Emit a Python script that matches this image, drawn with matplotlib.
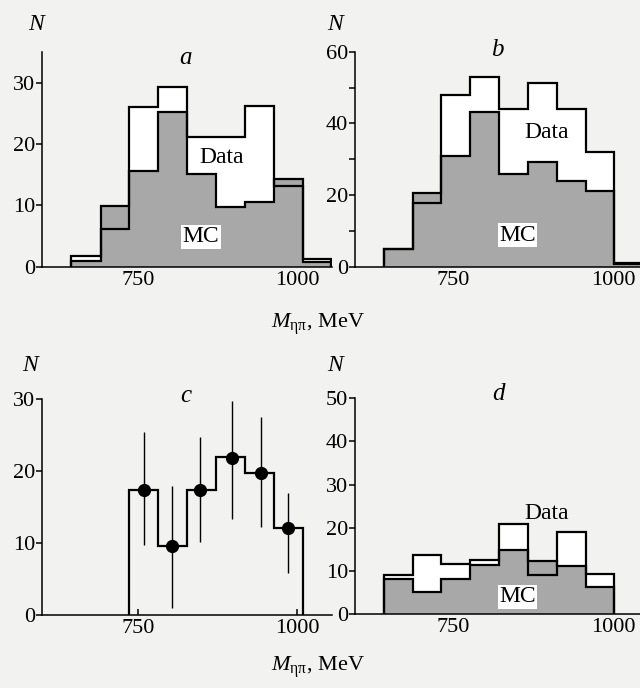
import matplotlib
matplotlib.use("Agg")
import matplotlib.pyplot as plt
from matplotlib.ticker import MultipleLocator

plt.rcParams['font.family'] = ['Liberation Serif', 'DejaVu Serif']
plt.rcParams['mathtext.fontset'] = 'custom'
plt.rcParams['mathtext.rm'] = 'Liberation Serif'
plt.rcParams['mathtext.it'] = 'Liberation Serif:italic'

# bin edges (MeV)
edges_left = [645, 691, 736, 782, 827, 873, 918, 964, 1009, 1054]
edges_right = [641, 686, 731, 776, 821, 866, 911, 956, 1001, 1046]
edges_c = [736, 782, 827, 873, 918, 964, 1009]

# panel a
data_a = [1.7, 6.1, 26, 29.3, 21.1, 21.1, 26.3, 13.1, 1.2]
mc_a = [1.0, 9.9, 15.7, 25.2, 15.1, 9.7, 10.6, 14.3, 0.8]
# panel b
data_b = [5, 17.7, 47.9, 53, 44, 51.2, 44, 31.9, 1.0]
mc_b = [5, 20.5, 30.9, 43.3, 26, 29.1, 23.9, 21.1, 0.8]
# panel c
hist_c = [17.4, 9.6, 17.4, 22.0, 19.8, 12.1]
pts_x_c = [760, 803, 848, 897, 943, 986]
pts_y_c = [17.4, 9.6, 17.4, 21.8, 19.7, 12.1]
err_lo_c = [7.7, 8.6, 7.2, 8.4, 7.5, 6.2]
err_hi_c = [8.1, 8.4, 7.4, 7.9, 7.9, 4.8]
# panel d
data_d = [9.0, 13.7, 11.6, 12.5, 20.8, 9.0, 18.9, 9.3]
mc_d = [8.0, 5.2, 8.0, 11.4, 14.8, 12.4, 11.2, 6.3]

W, H = 640, 688
bg = '#f2f2f0'
gray = '#a8a8a8'
fig = plt.figure(figsize=(W / 100, H / 100), dpi=100, facecolor=bg)


def make_axes(x0, y_bottom, w, h):
    # pixel box -> figure fraction
    ax = fig.add_axes([x0 / W, 1 - y_bottom / H, w / W, h / H])
    ax.set_facecolor('none')
    for s in ['top', 'right']:
        ax.spines[s].set_visible(False)
    for s in ['left', 'bottom']:
        ax.spines[s].set_linewidth(1.1)
    ax.tick_params(axis='y', direction='out', length=4, width=1.1, pad=1, labelsize=16)
    ax.tick_params(axis='x', direction='in', length=4, width=1.1, pad=3, labelsize=16)
    ax.tick_params(which='minor', axis='y', direction='out', length=4, width=1.1)
    ax.set_xticks([750, 1000])
    return ax


def draw_hist(ax, edges, data, mc):
    ax.stairs(data, edges, fill=True, color='white', zorder=1)
    ax.stairs(mc, edges, fill=True, color=gray, zorder=2)
    ax.stairs(mc, edges, color='black', lw=1.6, zorder=3)
    ax.stairs(data, edges, color='black', lw=1.6, zorder=3)


box = dict(facecolor='white', edgecolor='none', pad=1)
lab = dict(fontsize=17, ha='center', va='center', zorder=5)

# a
ax = make_axes(42, 266.7, 290, 215)
draw_hist(ax, edges_left, data_a, mc_a)
ax.set_xlim(599, 1055)
ax.set_ylim(0, 35.1)
ax.set_yticks([0, 10, 20, 30])
ax.text(882, 17.8, 'Data', bbox=box, **lab)
ax.text(849, 4.9, 'MC', bbox=box, **lab)

# b
ax = make_axes(355, 266.7, 285, 215)
draw_hist(ax, edges_right, data_b, mc_b)
ax.set_xlim(596, 1041)
ax.set_ylim(0, 60)
ax.set_yticks([0, 20, 40, 60])
ax.yaxis.set_minor_locator(MultipleLocator(10))
ax.text(895, 37.4, 'Data', bbox=box, **lab)
ax.text(850, 8.8, 'MC', bbox=box, **lab)

# c
ax = make_axes(42, 615, 290, 215.7)
ax.stairs(hist_c, edges_c, color='black', lw=1.6, zorder=3)
ax.errorbar(pts_x_c, pts_y_c, yerr=[err_lo_c, err_hi_c], fmt='o', color='black',
            ms=8.5, elinewidth=1, capsize=0, zorder=4)
ax.set_xlim(599, 1055)
ax.set_ylim(0, 30)
ax.set_yticks([0, 10, 20, 30])

# d
ax = make_axes(355, 614, 285, 215.7)
draw_hist(ax, edges_right[:-1], data_d, mc_d)
ax.set_xlim(596, 1041)
ax.set_ylim(0, 50)
ax.set_yticks([0, 10, 20, 30, 40, 50])
ax.text(895, 23.3, 'Data', **lab)
ax.text(850, 4.0, 'MC', bbox=box, **lab)

# axis symbols and panel letters
for x, y in [(36, 25), (335, 25), (30, 365), (335, 365)]:
    fig.text(x / W, 1 - y / H, 'N', fontsize=17, style='italic', ha='center', va='center')
for x, y, s in [(186, 58, 'a'), (497, 50, 'b'), (186, 396, 'c'), (498, 394, 'd')]:
    fig.text(x / W, 1 - y / H, s, fontsize=18, style='italic', ha='center', va='center')

xlab = r'$M_{\mathrm{\eta\pi}}$, MeV'
fig.text(318 / W, 1 - 324 / H, xlab, fontsize=16, ha='center', va='center')
fig.text(318 / W, 1 - 667 / H, xlab, fontsize=16, ha='center', va='center')

fig.savefig('out.png', dpi=100, facecolor=bg)
